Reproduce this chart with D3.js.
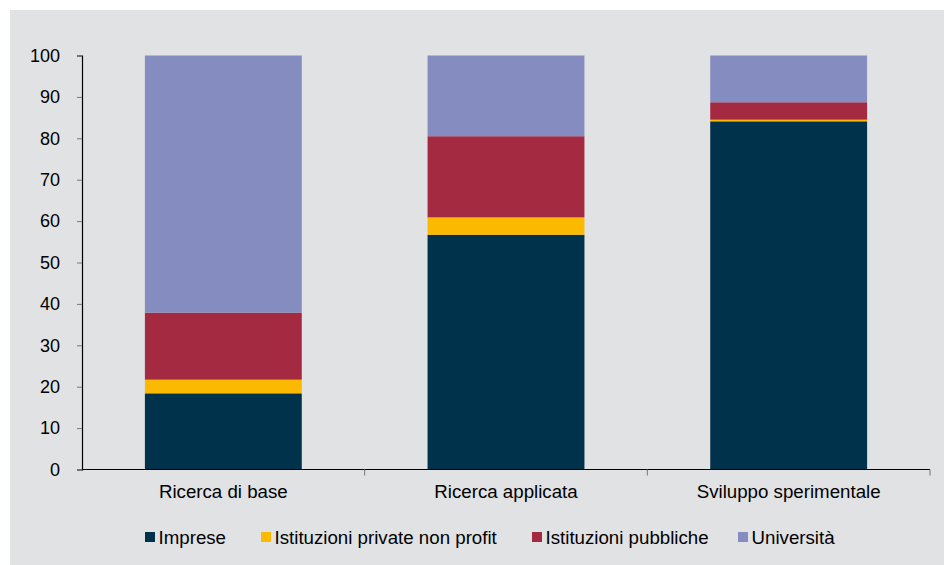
<!DOCTYPE html>
<html>
<head>
<meta charset="utf-8">
<script src="https://cdn.jsdelivr.net/npm/d3@7"></script>
<style>
  html, body { margin: 0; padding: 0; background: #ffffff; }
  svg { display: block; font-family: "Liberation Sans", Arial, sans-serif; }
</style>
</head>
<body>
<svg id="chart" width="944" height="565"></svg>
<script>
// Categories and percentage shares by performing sector
const categories = ["Ricerca di base", "Ricerca applicata", "Sviluppo sperimentale"];
const seriesNames = ["Imprese", "Istituzioni private non profit", "Istituzioni pubbliche", "Università"];
const imprese      = [18.4, 56.7, 84.1];
const nonProfit    = [3.3, 4.2, 0.4];
const pubbliche    = [16.2, 19.6, 4.2];
const universita   = [62.1, 19.5, 11.3];
const yTicks = [0, 10, 20, 30, 40, 50, 60, 70, 80, 90, 100];
const colors = ["#01324b", "#fbba00", "#a42a42", "#858cc0"];

const seriesValues = [imprese, nonProfit, pubbliche, universita];
const rows = categories.map((c, i) => {
  const r = { category: c };
  seriesNames.forEach((s, j) => { r[s] = seriesValues[j][i]; });
  return r;
});

const svg = d3.select("#chart");
// panel background
svg.append("rect").attr("x", 10).attr("y", 10).attr("width", 934).attr("height", 555).attr("fill", "#e1e2e4");

const margin = { left: 82, right: 930, top: 55.5, bottom: 469.5 };

const x = d3.scaleBand().domain(categories).range([margin.left, margin.right]).paddingInner(0.445).paddingOuter(0.2225);
const y = d3.scaleLinear().domain([0, 100]).range([margin.bottom, margin.top]);

const stack = d3.stack().keys(seriesNames)(rows);

svg.append("g").selectAll("g").data(stack).join("g")
  .attr("fill", (d, i) => colors[i])
  .selectAll("rect").data(d => d).join("rect")
  .attr("x", d => x(d.data.category))
  .attr("width", x.bandwidth())
  .attr("y", d => y(d[1]))
  .attr("height", d => y(d[0]) - y(d[1]));

// y axis
const yAxis = svg.append("g").attr("transform", `translate(${margin.left},0)`)
  .call(d3.axisLeft(y).tickValues(yTicks).tickSize(5).tickPadding(17));
yAxis.select(".domain").attr("stroke", "#000").attr("stroke-width", 1.2);
yAxis.selectAll(".tick line").attr("stroke", "#777");
yAxis.selectAll(".tick text").attr("font-size", 18).attr("fill", "#000")
  .attr("font-family", "'Liberation Sans', Arial, sans-serif");

// x axis with boundary ticks between categories
const xg = svg.append("g").attr("transform", `translate(0,${margin.bottom})`);
xg.append("line").attr("x1", margin.left).attr("x2", margin.right).attr("y1", 0).attr("y2", 0)
  .attr("stroke", "#000").attr("stroke-width", 1.2);
const bounds = d3.range(1, categories.length + 1).map(i => margin.left + i * (margin.right - margin.left) / categories.length);
xg.selectAll("line.b").data(bounds).join("line").attr("class", "b")
  .attr("x1", d => d).attr("x2", d => d).attr("y1", 0).attr("y2", 6)
  .attr("stroke", "#777");
xg.selectAll("text").data(categories).join("text")
  .attr("x", d => x(d) + x.bandwidth() / 2)
  .attr("y", 28.5)
  .attr("text-anchor", "middle")
  .attr("font-size", 18.7)
  .attr("fill", "#000")
  .text(d => d);

// legend
const legendX = [145, 261, 532, 738];
const lg = svg.append("g");
seriesNames.forEach((s, i) => {
  lg.append("rect").attr("x", legendX[i]).attr("y", 532).attr("width", 10).attr("height", 10).attr("fill", colors[i]);
  lg.append("text").attr("x", legendX[i] + 13.5).attr("y", 543.5).attr("font-size", 18.7).attr("fill", "#000").text(s);
});
</script>
</body>
</html>
